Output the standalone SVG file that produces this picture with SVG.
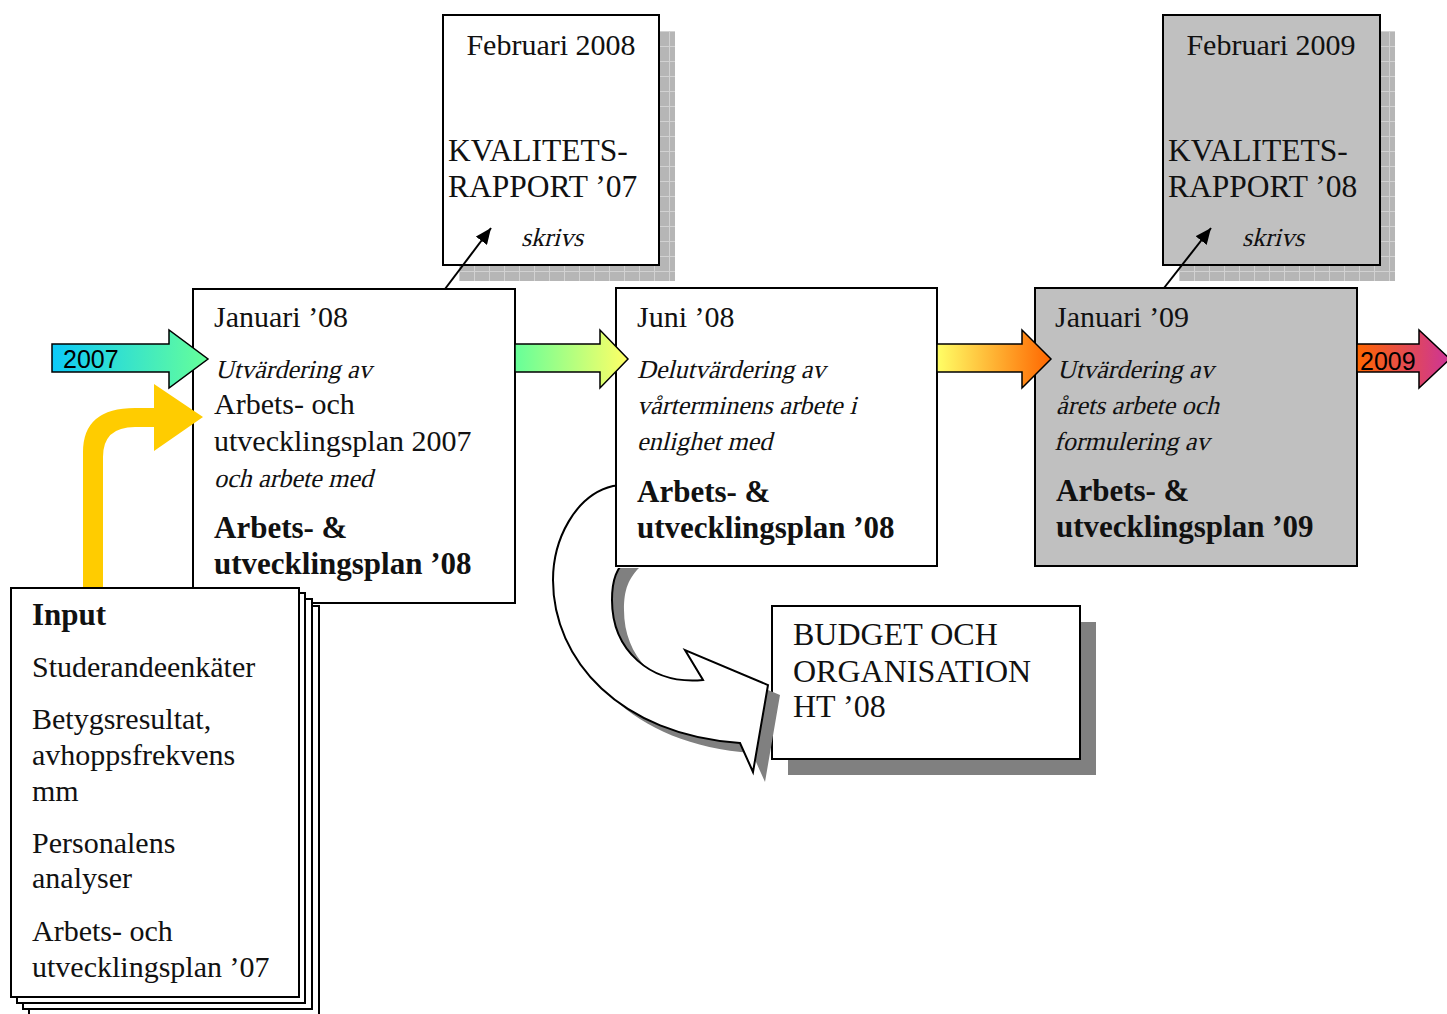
<svg xmlns="http://www.w3.org/2000/svg" width="1447" height="1014" viewBox="0 0 1447 1014">
<style>
.box{fill:#fff;stroke:#000;stroke-width:2}
.gbox{fill:#c0c0c0;stroke:#000;stroke-width:2}
.t{font-family:"Liberation Serif","Times New Roman",serif;font-size:30px;fill:#111}
.i{font-size:26px}
.b{font-weight:bold;font-size:31px}
.c{font-size:31.5px}
.cb{font-size:32px}
.sans{font-family:"Liberation Sans",Arial,sans-serif;font-size:25px;fill:#000}
.tl{stroke:#000;stroke-width:1.5}
.ln{stroke:#000;stroke-width:2;fill:none}
</style>
<defs>
<pattern id="grid" width="15" height="15" patternUnits="userSpaceOnUse" x="459" y="31">
<rect width="15" height="15" fill="#b6b6b6"/>
<path d="M0,0.5H15M0.5,0V15" stroke="#d2d2d2" stroke-width="1"/>
</pattern>
<linearGradient id="g1" x1="0" x2="1" y1="0" y2="0"><stop offset="0" stop-color="#0ccaf8"/><stop offset="1" stop-color="#66ff99"/></linearGradient>
<linearGradient id="g2" x1="0" x2="1" y1="0" y2="0"><stop offset="0" stop-color="#66ff99"/><stop offset="1" stop-color="#ffff66"/></linearGradient>
<linearGradient id="g3" x1="0" x2="1" y1="0" y2="0"><stop offset="0" stop-color="#ffff66"/><stop offset="1" stop-color="#ff6600"/></linearGradient>
<linearGradient id="g4" x1="0" x2="1" y1="0" y2="0"><stop offset="0" stop-color="#ff6600"/><stop offset="1" stop-color="#cc3399"/></linearGradient>
<marker id="ah" markerWidth="18" markerHeight="14" refX="16" refY="7" orient="auto" markerUnits="userSpaceOnUse">
<path d="M0,0L16,7L0,14Z" fill="#000"/>
</marker>
<clipPath id="outJuni"><path clip-rule="evenodd" d="M0,0H1447V1014H0Z M615,287H939V568H615Z"/></clipPath>
<path id="uturn" d="M650,482 L613,486 C575,495 553,540 553,580 C553,660 620,735 740,743 L753,772 L768,685 L685,650 L703,680 C650,685 612,650 612,600 C612,580 616,568 630,555 L650,540 Z"/>
</defs>

<g id="feb2008">
<rect x="459" y="31" width="216" height="250" fill="url(#grid)"/>
<rect class="box" x="443" y="15" width="216" height="250"/>
<text class="t" x="551" y="55" text-anchor="middle">Februari 2008</text>
<text class="t c" x="448" y="161">KVALITETS-</text>
<text class="t c" x="448" y="197">RAPPORT ’07</text>
<text class="t i" transform="translate(552,246) skewX(-14)" text-anchor="middle">skrivs</text>
</g>

<g id="feb2009">
<rect x="1179" y="31" width="216" height="250" fill="url(#grid)"/>
<rect class="gbox" x="1163" y="15" width="217" height="250"/>
<text class="t" x="1271" y="55" text-anchor="middle">Februari 2009</text>
<text class="t c" x="1168" y="161">KVALITETS-</text>
<text class="t c" x="1168" y="197">RAPPORT ’08</text>
<text class="t i" transform="translate(1273,246) skewX(-14)" text-anchor="middle">skrivs</text>
</g>

<g id="juni08">
<rect class="box" x="616" y="288" width="321" height="278"/>
<text class="t" x="637" y="327">Juni ’08</text>
<text class="t i" transform="translate(637,378) skewX(-14)">Delutvärdering av</text>
<text class="t i" transform="translate(637,414) skewX(-14)">vårterminens arbete i</text>
<text class="t i" transform="translate(637,450) skewX(-14)">enlighet med</text>
<text class="t b" x="637" y="502">Arbets- &amp;</text>
<text class="t b" x="637" y="538">utvecklingsplan ’08</text>
</g>

<g id="januari08">
<rect class="box" x="193" y="289" width="322" height="314"/>
<text class="t" x="214" y="327">Januari ’08</text>
<text class="t i" transform="translate(215,378) skewX(-14)">Utvärdering av</text>
<text class="t" x="214" y="414">Arbets- och</text>
<text class="t" x="214" y="451">utvecklingsplan 2007</text>
<text class="t i" transform="translate(214,487) skewX(-14)">och arbete med</text>
<text class="t b" x="214" y="538">Arbets- &amp;</text>
<text class="t b" x="214" y="574">utvecklingsplan ’08</text>
</g>

<g id="januari09">
<rect class="gbox" x="1035" y="288" width="322" height="278"/>
<text class="t" x="1055" y="327">Januari ’09</text>
<text class="t i" transform="translate(1057,378) skewX(-14)">Utvärdering av</text>
<text class="t i" transform="translate(1056,414) skewX(-14)">årets arbete och</text>
<text class="t i" transform="translate(1054,450) skewX(-14)">formulering av</text>
<text class="t b" x="1056" y="501">Arbets- &amp;</text>
<text class="t b" x="1056" y="537">utvecklingsplan ’09</text>
</g>

<g id="budget">
<rect x="788" y="622" width="308" height="153" fill="#808080"/>
<rect class="box" x="772" y="606" width="308" height="153"/>
<text class="t cb" x="793" y="645">BUDGET OCH</text>
<text class="t cb" x="793" y="682">ORGANISATION</text>
<text class="t cb" x="793" y="717">HT ’08</text>
</g>

<g id="input">
<rect class="box" x="29" y="606" width="290" height="412"/>
<rect class="box" x="23" y="599" width="289" height="410"/>
<rect class="box" x="17" y="593" width="288" height="410"/>
<rect class="box" x="11" y="588" width="288" height="409"/>
<text class="t b" x="32" y="625">Input</text>
<text class="t" x="32" y="677">Studerandeenkäter</text>
<text class="t" x="32" y="729">Betygsresultat,</text>
<text class="t" x="32" y="765">avhoppsfrekvens</text>
<text class="t" x="32" y="801">mm</text>
<text class="t" x="32" y="853">Personalens</text>
<text class="t" x="32" y="888">analyser</text>
<text class="t" x="32" y="941">Arbets- och</text>
<text class="t" x="32" y="977">utvecklingsplan ’07</text>
</g>

<g id="connectors">
<g clip-path="url(#outJuni)">
<use href="#uturn" transform="translate(12,10)" fill="#808080"/>
<use href="#uturn" fill="#fff" stroke="#000" stroke-width="2" stroke-linejoin="miter"/>
</g>
<path d="M83,587 L83,452 Q83,408 135,408 L154,408 L154,384 L203,417 L154,451 L154,427 L135,427 Q103,427 103,457 L103,587 Z" fill="#ffcc00"/>
<polygon class="tl" points="52,344 169,344 169,330 208,359 169,388 169,372 52,372" fill="url(#g1)"/>
<text class="sans" x="63" y="368">2007</text>
<polygon class="tl" points="515,344 600,344 600,330 628,359 600,388 600,372 515,372" fill="url(#g2)"/>
<polygon class="tl" points="937,344 1022,344 1022,330 1051,359 1022,388 1022,372 937,372" fill="url(#g3)"/>
<polygon class="tl" points="1357,344 1419,344 1419,330 1450,359 1419,388 1419,372 1357,372" fill="url(#g4)"/>
<text class="sans" x="1360" y="370">2009</text>
<line class="ln" x1="445" y1="289" x2="491" y2="228" marker-end="url(#ah)"/>
<line class="ln" x1="1164" y1="288" x2="1211" y2="228" marker-end="url(#ah)"/>
</g>
</svg>
